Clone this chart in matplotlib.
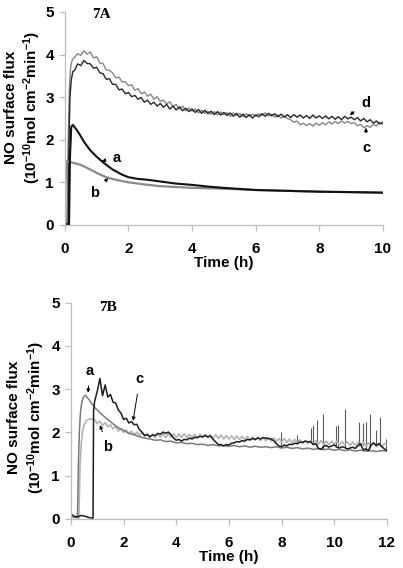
#!/usr/bin/env python
# -*- coding: utf-8 -*-

"""
NO surface flux vs time, panels 7A and 7B.
"""

import numpy as np
import matplotlib
matplotlib.use("Agg")
import matplotlib.pyplot as plt

plt.rcParams['font.family'] = ['Liberation Sans', 'DejaVu Sans']
plt.rcParams['font.weight'] = 'bold'
plt.rcParams['mathtext.fontset'] = 'custom'
plt.rcParams['mathtext.rm'] = 'Liberation Sans:bold'
plt.rcParams['mathtext.default'] = 'rm'

# ---------------------------------------------------------------- panel 7A
# a: smooth black decay
a7a_t = [0.0, 0.05, 0.1, 0.13, 0.16, 0.2, 0.25, 0.3, 0.4, 0.5, 0.6, 0.8, 1.0, 1.2,
         1.5, 1.8, 2.0, 2.3, 2.6, 3.0, 3.5, 4.0, 4.5, 5.0, 6.0, 7.0, 8.0, 9.0, 10.0]
a7a_v = [0.05, 0.02, 0.0, 0.0, 1.6, 2.3, 2.35, 2.3, 2.2, 2.08, 1.95, 1.75, 1.6, 1.47,
         1.3, 1.18, 1.12, 1.08, 1.06, 1.02, 0.97, 0.94, 0.9, 0.87, 0.82, 0.8, 0.78, 0.77, 0.76]

# b: smooth gray decay
b7a_t = [0.0, 0.03, 0.06, 0.1, 0.3, 0.5, 0.8, 1.0, 1.3, 1.6, 2.0, 2.5, 3.0, 3.5, 4.0,
         5.0, 6.0, 7.0, 8.0, 9.0, 10.0]
b7a_v = [0.6, 1.2, 1.5, 1.49, 1.45, 1.41, 1.3, 1.22, 1.12, 1.06, 1.0, 0.95, 0.91, 0.89,
         0.87, 0.85, 0.82, 0.8, 0.78, 0.77, 0.75]

# c: noisy gray, rise then 0.3..10.0 h every 0.1 h
c7a_rise_t = [0.0, 0.06, 0.1, 0.14, 0.18, 0.22, 0.26]
c7a_rise_v = [0.0, 0.0, 1.8, 3.2, 3.7, 3.85, 3.9]
c7a_v = [3.93, 4.02, 3.98, 4.09, 4.01, 4.06, 3.92, 3.95,
         3.80, 3.79, 3.64, 3.63, 3.57, 3.45, 3.47, 3.36, 3.36, 3.27,
         3.29, 3.16, 3.20, 3.08, 3.12, 3.02, 3.07, 2.95, 3.01, 2.90,
         2.93, 2.84, 2.89, 2.78, 2.83, 2.72, 2.79, 2.68, 2.74, 2.67,
         2.72, 2.63, 2.69, 2.62, 2.67, 2.60, 2.66, 2.58, 2.65, 2.59,
         2.64, 2.55, 2.63, 2.57, 2.62, 2.54, 2.61, 2.55, 2.60, 2.56,
         2.61, 2.57, 2.63, 2.56, 2.60, 2.53, 2.58, 2.51, 2.55, 2.50,
         2.47, 2.41, 2.44, 2.35, 2.39, 2.33, 2.38, 2.32, 2.39, 2.34,
         2.40, 2.35, 2.42, 2.37, 2.43, 2.38, 2.44, 2.39, 2.43, 2.38,
         2.40, 2.33, 2.36, 2.28, 2.33, 2.29, 2.36, 2.32, 2.41, 2.36]

# d: noisy black, rise then 0.3..10.0 h every 0.1 h
d7a_rise_t = [0.0, 0.1, 0.13, 0.16, 0.2, 0.25]
d7a_rise_v = [0.02, 0.0, 2.0, 3.0, 3.4, 3.6]
d7a_v = [3.62, 3.78, 3.74, 3.86, 3.79, 3.78, 3.68, 3.70,
         3.57, 3.55, 3.42, 3.43, 3.30, 3.30, 3.17, 3.19, 3.08, 3.11,
         3.01, 3.04, 2.95, 2.99, 2.88, 2.93, 2.83, 2.88, 2.79, 2.85,
         2.76, 2.83, 2.72, 2.79, 2.70, 2.77, 2.68, 2.74, 2.66, 2.72,
         2.64, 2.71, 2.62, 2.69, 2.61, 2.67, 2.59, 2.66, 2.58, 2.64,
         2.57, 2.63, 2.55, 2.62, 2.53, 2.60, 2.52, 2.59, 2.51, 2.58,
         2.54, 2.61, 2.55, 2.62, 2.56, 2.61, 2.54, 2.60, 2.53, 2.59,
         2.52, 2.59, 2.53, 2.58, 2.51, 2.57, 2.50, 2.58, 2.51, 2.56,
         2.50, 2.56, 2.49, 2.55, 2.48, 2.54, 2.47, 2.55, 2.49, 2.53,
         2.47, 2.52, 2.44, 2.50, 2.42, 2.47, 2.39, 2.44, 2.37, 2.41]

# ---------------------------------------------------------------- panel 7B
# a: medium gray, rise then 1.2..12.0 h every 0.2 h
a7b_rise_t = [0.0, 0.1, 0.2, 0.25, 0.28, 0.32, 0.36, 0.4, 0.45, 0.5, 0.55, 0.6,
              0.7, 0.8, 0.9, 1.0]
a7b_rise_v = [0.05, 0.04, 0.03, 0.03, 1.2, 2.0, 2.45, 2.65, 2.78, 2.84, 2.86, 2.82,
              2.75, 2.66, 2.58, 2.52]
a7b_v = [2.40, 2.30, 2.20, 2.11, 2.05, 1.98, 1.95, 1.90, 1.87, 1.85,
         1.82, 1.83, 1.79, 1.80, 1.76, 1.77, 1.74, 1.75, 1.72, 1.73,
         1.70, 1.72, 1.69, 1.70, 1.68, 1.70, 1.67, 1.69, 1.66, 1.68,
         1.66, 1.67, 1.65, 1.67, 1.64, 1.66, 1.63, 1.65, 1.62, 1.64,
         1.61, 1.63, 1.60, 1.62, 1.59, 1.61, 1.58, 1.60, 1.57, 1.59,
         1.57, 1.58, 1.56, 1.58, 1.57]

# b: light gray, rise then 0.9..12.0 h every 0.1 h
b7b_rise_t = [0.3, 0.35, 0.4, 0.45, 0.5, 0.55, 0.6, 0.7, 0.8]
b7b_rise_v = [0.02, 1.3, 1.8, 2.05, 2.17, 2.24, 2.28, 2.31, 2.31]
b7b_v = [2.30, 2.20, 2.26, 2.16, 2.23, 2.13, 2.18, 2.08, 2.14, 2.03,
         2.09, 2.00, 2.06, 1.97, 2.03, 1.94, 2.01, 1.92, 2.00, 1.91,
         1.98, 1.89, 1.97, 1.88, 1.97, 1.89, 1.97, 1.88, 1.98, 1.89,
         1.97, 1.88, 1.97, 1.89, 1.97, 1.88, 1.96, 1.88, 1.96, 1.87,
         1.96, 1.88, 1.96, 1.87, 1.95, 1.86, 1.95, 1.86, 1.94, 1.85,
         1.93, 1.85, 1.92, 1.84, 1.92, 1.84, 1.91, 1.83, 1.91, 1.82,
         1.90, 1.82, 1.90, 1.81, 1.89, 1.81, 1.88, 1.80, 1.88, 1.79,
         1.86, 1.78, 1.86, 1.77, 1.85, 1.76, 1.84, 1.76, 1.83, 1.75,
         1.82, 1.74, 1.81, 1.73, 1.81, 1.73, 1.81, 1.72, 1.80, 1.72,
         1.80, 1.72, 1.80, 1.71, 1.79, 1.71, 1.79, 1.70, 1.78, 1.70,
         1.77, 1.69, 1.77, 1.68, 1.76, 1.68, 1.75, 1.67, 1.75, 1.66,
         1.74, 1.72]

# c: black, flat start then 0.9..12.0 h every 0.1 h
c7b_rise_t = [0.0, 0.1, 0.2, 0.3, 0.4, 0.5, 0.6, 0.7, 0.8, 0.84, 0.86]
c7b_rise_v = [0.12, 0.07, 0.05, 0.06, 0.08, 0.07, 0.05, 0.03, 0.02, 0.02, 2.5]
c7b_v = [2.72, 2.95, 3.25, 2.85, 3.10, 2.82, 2.88, 2.70, 2.68, 2.52,
         2.45, 2.30, 2.33, 2.22, 2.25, 2.18, 2.19, 2.07, 2.01, 1.93,
         1.95, 1.90, 1.94, 1.93, 1.98, 1.96, 2.01, 1.98, 2.01, 1.95,
         1.87, 1.82, 1.84, 1.80, 1.84, 1.83, 1.87, 1.85, 1.89, 1.88,
         1.91, 1.90, 1.93, 1.90, 1.92, 1.84, 1.78, 1.72, 1.72, 1.69,
         1.72, 1.71, 1.75, 1.76, 1.79, 1.78, 1.81, 1.80, 1.84, 1.83,
         1.86, 1.84, 1.87, 1.85, 1.88, 1.87, 1.86, 1.85, 1.81, 1.74,
         1.69, 1.67, 1.71, 1.69, 1.73, 1.72, 1.75, 1.74, 1.78, 1.77,
         1.80, 1.78, 1.79, 1.72, 1.74, 1.63, 1.61, 1.68, 1.70, 1.66,
         1.69, 1.71, 1.66, 1.64, 1.67, 1.65, 1.62, 1.64, 1.66, 1.63,
         1.70, 1.74, 1.60, 1.62, 1.58, 1.72, 1.76, 1.70, 1.74, 1.68,
         1.62, 1.58]

# thin spikes late in 7B
spike_t = [7.98, 8.6, 9.12, 9.2, 9.35, 9.58, 10.05, 10.15, 10.4, 10.95, 11.1,
           11.2, 11.35, 11.6, 11.75, 11.96]
spike_base = [1.72, 1.74, 1.78, 1.76, 1.70, 1.62, 1.68, 1.66, 1.64, 1.68, 1.70,
              1.62, 1.64, 1.70, 1.72, 1.60]
spike_top = [2.0, 1.95, 2.1, 2.18, 2.3, 2.43, 2.14, 2.17, 2.55, 2.24, 2.22, 2.24,
             2.43, 2.05, 2.35, 1.85]


def grid(start, step, vals):
    """Time points for a regularly sampled stretch."""
    return np.round(start + step * np.arange(len(vals)), 2)


def style_axes(ax, xmax, label_xy):
    for side in ('top', 'right'):
        ax.spines[side].set_visible(False)
    for side in ('left', 'bottom'):
        ax.spines[side].set_color('#bdbdbd')
        ax.spines[side].set_linewidth(0.9)
    ax.tick_params(direction='out', length=4, width=0.9, color='#bdbdbd',
                   labelsize=11)
    ax.tick_params(axis='x', pad=8)
    ax.tick_params(axis='y', pad=4)
    ax.set_xlim(0, xmax)
    ax.set_ylim(0, 5)
    ax.set_xticks(np.arange(0, xmax + 1, 2))
    ax.set_yticks(range(0, 6))
    ax.set_xlabel("Time (h)", fontsize=11, fontweight='bold', labelpad=0)
    ax.set_ylabel("NO surface flux\n(10$^{-10}$mol cm$^{-2}$min$^{-1}$)",
                  fontsize=11, fontweight='bold', linespacing=1.25)
    ax.yaxis.set_label_coords(*label_xy)


def tag(ax, s, xy, xytext):
    ax.annotate(s, xy=xy, xytext=xytext, fontsize=10.5, fontweight='bold',
                ha='center', va='center',
                arrowprops=dict(arrowstyle='-|>', color='black', lw=0.7,
                                mutation_scale=5, shrinkA=4, shrinkB=0))


fig = plt.figure(figsize=(4.03, 5.68), dpi=100, facecolor='w')

# ---- 7A
ax1 = fig.add_axes([0.161, 0.604, 0.789, 0.375])
ax1.plot(c7a_rise_t + list(grid(0.3, 0.1, c7a_v)), c7a_rise_v + c7a_v,
         color='#868686', lw=1.0)
ax1.plot(d7a_rise_t + list(grid(0.3, 0.1, d7a_v)), d7a_rise_v + d7a_v,
         color='#262626', lw=1.0)
ax1.plot(b7a_t, b7a_v, color='#8a8a8a', lw=1.6)
ax1.plot(a7a_t, a7a_v, color='#111111', lw=1.5)
style_axes(ax1, 10, (-0.068, 0.55))
ax1.text(1.16, 4.93, "7A", family=['Liberation Serif'], fontweight='bold',
         fontsize=11, ha='center', va='center')
tag(ax1, "a", (1.16, 1.5), (1.63, 1.57))
tag(ax1, "b", (1.36, 1.1), (0.94, 0.75))
tag(ax1, "d", (8.96, 2.58), (9.47, 2.86))
tag(ax1, "c", (9.47, 2.28), (9.47, 1.8))

# ---- 7B
ax2 = fig.add_axes([0.176, 0.0863, 0.784, 0.3807])
ax2.vlines(spike_t, spike_base, spike_top, color='#5a5a5a', lw=0.8)
ax2.plot(b7b_rise_t + list(grid(0.9, 0.1, b7b_v)), b7b_rise_v + b7b_v,
         color='#b3b3b3', lw=1.2)
ax2.plot(a7b_rise_t + list(grid(1.2, 0.2, a7b_v)), a7b_rise_v + a7b_v,
         color='#7a7a7a', lw=1.1)
ax2.plot(c7b_rise_t + list(grid(0.9, 0.1, c7b_v)), c7b_rise_v + c7b_v,
         color='#1c1c1c', lw=1.1)
style_axes(ax2, 12, (-0.076, 0.47))
ax2.text(1.41, 4.9, "7B", family=['Liberation Serif'], fontweight='bold',
         fontsize=11, ha='center', va='center')
tag(ax2, "a", (0.65, 2.92), (0.72, 3.43))
tag(ax2, "b", (1.1, 2.17), (1.41, 1.67))
tag(ax2, "c", (2.36, 2.27), (2.62, 3.24))

fig.savefig("out.png", dpi=100)
